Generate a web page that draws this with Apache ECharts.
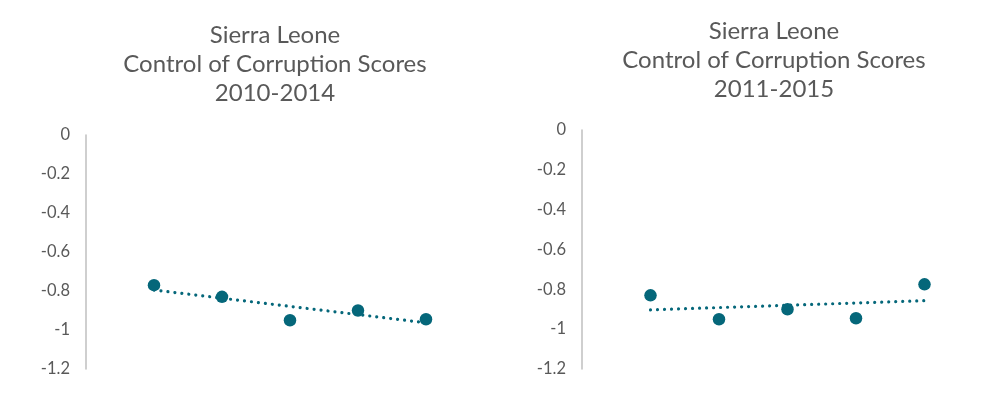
<!DOCTYPE html>
<html><head><meta charset="utf-8">
<script src="https://cdn.jsdelivr.net/npm/echarts@6/dist/echarts.min.js"></script>
<style>html,body{margin:0;padding:0;background:#fff}#c{width:1000px;height:416px}</style>
</head><body><div id="c"></div>
<script>
const yearsA = [2010, 2011, 2012, 2013, 2014];
const scoresA = [-0.77, -0.83, -0.95, -0.90, -0.945];
const yearsB = [2011, 2012, 2013, 2014, 2015];
const scoresB = [-0.83, -0.95, -0.90, -0.945, -0.775];
const titleA = 'Sierra Leone\nControl of Corruption Scores\n2010-2014';
const titleB = 'Sierra Leone\nControl of Corruption Scores\n2011-2015';
const yTicks = { min: -1.2, max: 0, interval: 0.2 };

function trend(xs, ys) {
  const n = xs.length;
  const mx = xs.reduce((a, b) => a + b, 0) / n;
  const my = ys.reduce((a, b) => a + b, 0) / n;
  let sxy = 0, sxx = 0;
  for (let i = 0; i < n; i++) { sxy += (xs[i] - mx) * (ys[i] - my); sxx += (xs[i] - mx) ** 2; }
  const b = sxy / sxx, a = my - b * mx;
  return [[xs[0], a + b * xs[0]], [xs[n - 1], a + b * xs[n - 1]]];
}

const color = '#05677a';
const txt = '#595959';
const chart = echarts.init(document.getElementById('c'));

function yAxis(idx) {
  return {
    gridIndex: idx, type: 'value', min: yTicks.min, max: yTicks.max, interval: yTicks.interval,
    axisLine: { show: true, lineStyle: { color: '#bfbfbf', width: 1.5 } },
    axisTick: { show: false }, splitLine: { show: false },
    axisLabel: { color: txt, fontFamily: 'Lato', fontSize: 16.5, margin: 16 }
  };
}
function xAxis(idx, min, max) {
  return { gridIndex: idx, type: 'value', min: min, max: max, show: false, splitLine: { show: false } };
}
function seriesFor(idx, xs, ys) {
  return [
    { type: 'line', xAxisIndex: idx, yAxisIndex: idx, data: trend(xs, ys), symbol: 'none', silent: true,
      lineStyle: { color: color, width: 3.2, type: [0.01, 7], cap: 'round' }, z: 2 },
    { type: 'scatter', xAxisIndex: idx, yAxisIndex: idx, data: xs.map((x, i) => [x, ys[i]]),
      symbol: 'circle', symbolSize: 12.5, itemStyle: { color: color, opacity: 1 }, z: 3 }
  ];
}

const titleStyle = { color: txt, fontFamily: 'Lato', fontSize: 24, fontWeight: 'normal', lineHeight: 29 };
chart.setOption({
  animation: false,
  title: [
    { text: titleA, left: 270, top: 16, textAlign: 'center', textStyle: titleStyle },
    { text: titleB, left: 769, top: 12, textAlign: 'center', textStyle: titleStyle }
  ],
  grid: [
    { left: 86, top: 135, width: 408, height: 234 },
    { left: 582, top: 130, width: 411, height: 239 }
  ],
  xAxis: [xAxis(0, yearsA[0] - 1, yearsA[yearsA.length - 1] + 1), xAxis(1, yearsB[0] - 1, yearsB[yearsB.length - 1] + 1)],
  yAxis: [yAxis(0), yAxis(1)],
  series: [...seriesFor(0, yearsA, scoresA), ...seriesFor(1, yearsB, scoresB)]
});
</script></body></html>
